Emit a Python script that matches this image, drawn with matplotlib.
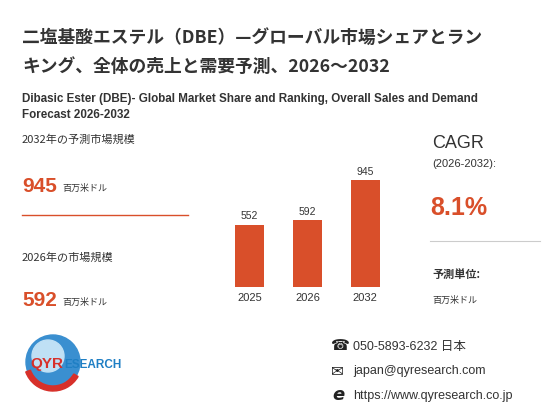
import matplotlib.pyplot as plt
from matplotlib.patches import Circle, Wedge

years = ["2025", "2026", "2032"]
values = [552, 592, 945]
bar_color = "#d94f2a"
jp = ["Noto Sans CJK JP", "DejaVu Sans"]
lat = ["Liberation Sans", "Noto Sans CJK JP", "DejaVu Sans"]

W, H = 560, 420
fig = plt.figure(figsize=(5.6, 4.2), dpi=100)


def txt(x, y, s, size, **kw):
    # pixel coords, y from top
    kw.setdefault("family", lat)
    fig.text(x / W, 1 - y / H, s, fontsize=size, va="center", **kw)


txt(22, 38, "二塩基酸エステル（DBE）—グローバル市場シェアとラン", 12.8, weight="bold", color="#333333", family=jp)
txt(22, 67, "キング、全体の売上と需要予測、2026～2032", 12.8, weight="bold", color="#333333", family=jp)
txt(22, 99, "Dibasic Ester (DBE)- Global Market Share and Ranking, Overall Sales and Demand", 8.4, weight="bold", color="#333333")
txt(22, 115, "Forecast 2026-2032", 8.4, weight="bold", color="#333333")

txt(22, 140, "2032年の予測市場規模", 8, color="#333333", family=jp)
txt(22, 186, "945", 15, weight="bold", color=bar_color)
txt(62, 188, "百万米ドル", 6.5, color="#333333", family=jp)
fig.add_artist(plt.Line2D([22 / W, 188 / W], [1 - 215 / H] * 2, color=bar_color, lw=1))
txt(22, 258, "2026年の市場規模", 8, color="#333333", family=jp)
txt(22, 300, "592", 15, weight="bold", color=bar_color)
txt(62, 302, "百万米ドル", 6.5, color="#333333", family=jp)

txt(432, 143, "CAGR", 13, color="#333333")
txt(432, 164, "(2026-2032):", 8, color="#333333")
txt(430, 208, "8.1%", 18, weight="bold", color=bar_color)
fig.add_artist(plt.Line2D([430 / W, 540 / W], [1 - 241 / H] * 2, color="#cccccc", lw=0.8))
txt(432, 274, "予測単位:", 8, weight="bold", color="#333333", family=jp)
txt(432, 300, "百万米ドル", 6.5, color="#333333", family=jp)

# bar chart
ax = fig.add_axes([215 / W, (420 - 287) / H, 185 / W, 113 / H])
ax.bar(years, values, width=0.5, color=bar_color)
for i, v in enumerate(values):
    ax.text(i, v + 30, str(v), ha="center", va="bottom", fontsize=7.5, color="#333333",
            family=lat)
ax.set_ylim(0, 1000)
ax.set_xlim(-0.6, 2.6)
ax.set_yticks([])
ax.tick_params(axis="x", length=0, labelsize=8, colors="#333333", pad=4)
for lb in ax.get_xticklabels():
    lb.set_family(lat)
for s in ax.spines.values():
    s.set_visible(False)

# logo
lax = fig.add_axes([20 / W, (420 - 400) / H, 140 / W, 70 / H])
lax.set_xlim(0, 140)
lax.set_ylim(0, 70)
lax.set_aspect("equal")
lax.axis("off")
lax.add_patch(Circle((33, 38), 27, color="#3a8fd0"))
lax.add_patch(Circle((28, 44), 16, color="#bfe0f5"))
lax.add_patch(Wedge((33, 38), 29, 200, 330, width=5, color="#d7302a"))
lax.text(10, 36, "QYR", fontsize=11, weight="bold", color="#d7302a", va="center", family=lat)
lax.text(44, 35, "ESEARCH", fontsize=8.5, weight="bold", color="#1f7fc4", va="center", family=lat)

# contacts
txt(331, 346, "☎", 11, color="#222222", family="DejaVu Sans")
txt(353, 347, "050-5893-6232 日本", 9, color="#333333")
txt(331, 371, "✉", 11, color="#222222", family="DejaVu Sans")
txt(353, 371, "japan@qyresearch.com", 9, color="#333333")
txt(332, 395, "e", 13, color="#222222", weight="bold", style="italic", family="DejaVu Sans")
txt(353, 396, "https://www.qyresearch.co.jp", 9, color="#333333")

fig.savefig("out.png", dpi=100, facecolor="white")
